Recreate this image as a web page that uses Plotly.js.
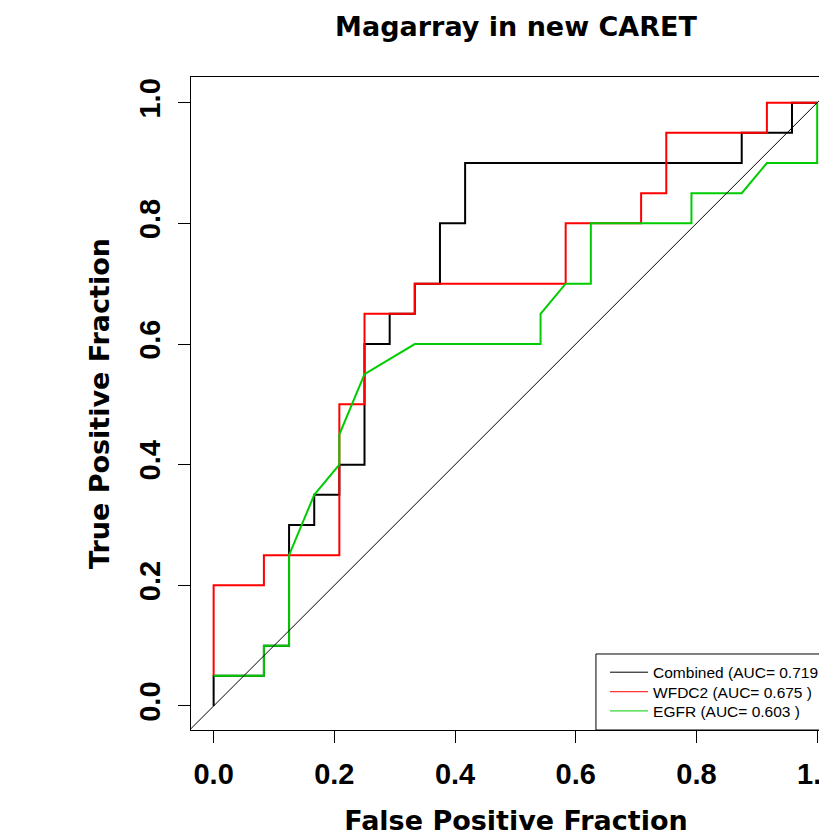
<!DOCTYPE html>
<html>
<head>
<meta charset="utf-8">
<script src="https://cdn.plot.ly/plotly-3.0.1.min.js"></script>
<style>
  html, body { margin: 0; padding: 0; overflow: hidden; background: #fff; }
  #chart { width: 860px; height: 838px; }
</style>
</head>
<body>
<div id="chart"></div>
<script>
// ROC curves: false positive fraction (x) vs true positive fraction (y)
const fpfCombined = [0, 0, 0.0833, 0.0833, 0.125, 0.125, 0.1667, 0.1667, 0.2083, 0.2083, 0.25, 0.25, 0.2917, 0.2917, 0.3333, 0.3333, 0.375, 0.375, 0.4167, 0.4167, 0.875, 0.875, 0.9583, 0.9583, 1];
const tpfCombined = [0, 0.05, 0.05, 0.1, 0.1, 0.3, 0.3, 0.35, 0.35, 0.4, 0.4, 0.6, 0.6, 0.65, 0.65, 0.7, 0.7, 0.8, 0.8, 0.9, 0.9, 0.95, 0.95, 1, 1];

const fpfWFDC2 = [0, 0, 0.0833, 0.0833, 0.2083, 0.2083, 0.25, 0.25, 0.3333, 0.3333, 0.5833, 0.5833, 0.7083, 0.7083, 0.75, 0.75, 0.9167, 0.9167, 1];
const tpfWFDC2 = [0.05, 0.2, 0.2, 0.25, 0.25, 0.5, 0.5, 0.65, 0.65, 0.7, 0.7, 0.8, 0.8, 0.85, 0.85, 0.95, 0.95, 1, 1];

const fpfEGFR = [0, 0.0833, 0.0833, 0.125, 0.125, 0.1667, 0.2083, 0.2083, 0.25, 0.3333, 0.5417, 0.5417, 0.5833, 0.625, 0.625, 0.7917, 0.7917, 0.875, 0.9167, 1, 1];
const tpfEGFR = [0.05, 0.05, 0.1, 0.1, 0.25, 0.35, 0.4, 0.45, 0.55, 0.6, 0.6, 0.65, 0.7, 0.7, 0.8, 0.8, 0.85, 0.85, 0.9, 0.9, 1];

// chance line y = x, spanning the whole panel
const chanceLine = [-0.05, 1.05];

const seriesNames = ['Combined (AUC= 0.719 )', 'WFDC2 (AUC= 0.675 )', 'EGFR (AUC= 0.603 )'];
const seriesColors = ['#000000', '#ff0000', '#00cd00'];
const tickValues = [0, 0.2, 0.4, 0.6, 0.8, 1.0];
const tickLabels = ['0.0', '0.2', '0.4', '0.6', '0.8', '1.0'];

const curves = [[fpfCombined, tpfCombined], [fpfWFDC2, tpfWFDC2], [fpfEGFR, tpfEGFR]];

const traces = curves.map((c, i) => ({
  x: c[0], y: c[1], type: 'scatter', mode: 'lines',
  line: { color: seriesColors[i], width: 2, shape: 'linear' },
  showlegend: false, hoverinfo: 'skip'
}));

traces.push({
  x: chanceLine, y: chanceLine, type: 'scatter', mode: 'lines',
  line: { color: '#000000', width: 1 }, showlegend: false, hoverinfo: 'skip'
});

// thin keys for the legend, one legend per row for tight line spacing
const legendIds = ['legend', 'legend2', 'legend3'];
seriesNames.forEach((name, i) => traces.push({
  x: [null], y: [null], type: 'scatter', mode: 'lines', name: name,
  legend: legendIds[i],
  line: { color: seriesColors[i], width: 1 }
}));

const tickFont = { family: 'Liberation Sans, Arial, sans-serif', size: 29, color: '#000', weight: 'bold' };
const titleFont = { family: 'DejaVu Sans, sans-serif', size: 27, color: '#000', weight: 'bold' };
const legendFont = { family: 'Liberation Sans, Arial, sans-serif', size: 15.5, color: '#000' };

const axisCommon = {
  showgrid: false, zeroline: false, showline: true, mirror: true,
  linecolor: '#000', linewidth: 1,
  ticks: 'outside', ticklen: 12, tickwidth: 1, tickcolor: '#000',
  tickvals: tickValues, ticktext: tickLabels, tickfont: tickFont,
  automargin: false, fixedrange: true
};

function legendRow(yTop) {
  return {
    x: 0.637, xanchor: 'left', y: yTop, yanchor: 'top',
    bgcolor: 'rgba(0,0,0,0)', borderwidth: 0, itemwidth: 38,
    font: legendFont
  };
}

const layout = {
  width: 860, height: 838,
  margin: { l: 191, r: 19, t: 77, b: 108, pad: 0 },
  paper_bgcolor: '#fff', plot_bgcolor: '#fff',
  title: { text: 'Magarray in new CARET', font: titleFont, x: 0.5, xref: 'paper', xanchor: 'center', y: 0.968, yref: 'container', yanchor: 'middle' },
  xaxis: Object.assign({}, axisCommon, {
    range: [-0.0375, 1.0395],
    title: { text: 'False Positive Fraction', font: titleFont, standoff: 22 },
    ticklabelstandoff: 6
  }),
  yaxis: Object.assign({}, axisCommon, {
    range: [-0.0398, 1.0426], tickangle: -90,
    title: { text: 'True Positive Fraction', font: titleFont, standoff: 16 },
    ticklabelstandoff: 6
  }),
  shapes: [{
    type: 'rect', xref: 'paper', yref: 'paper', layer: 'below',
    x0: 0.623, x1: 1, y0: 0, y1: 0.1164,
    line: { color: '#000', width: 1 }, fillcolor: '#fff'
  }],
  legend: legendRow(0.1139),
  legend2: legendRow(0.0840),
  legend3: legendRow(0.0546),
  showlegend: true
};

Plotly.newPlot('chart', traces, layout, { staticPlot: true, displayModeBar: false });
</script>
</body>
</html>
